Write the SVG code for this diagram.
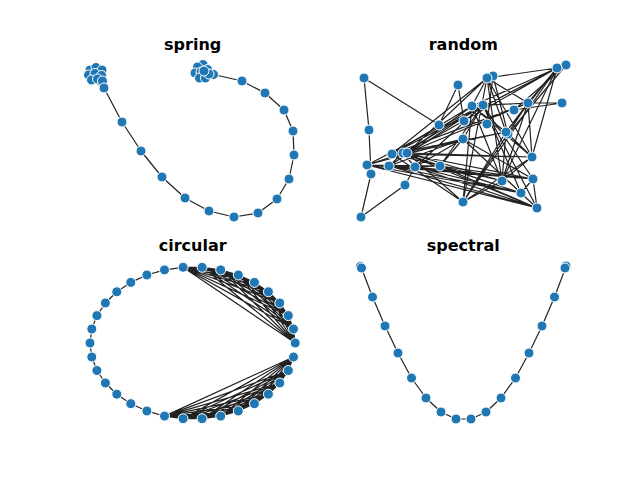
<svg xmlns="http://www.w3.org/2000/svg" width="640" height="480" viewBox="0 0 640 480">
<style>
.t{font-family:"DejaVu Sans","Liberation Sans",sans-serif;font-weight:bold;font-size:16px;fill:#000;text-anchor:middle}
.e{fill:none;stroke:#222;stroke-width:1.2;stroke-linejoin:round;stroke-linecap:round}
.n{fill:#1f77b4;stroke:#fff;stroke-width:1}
</style>
<rect width="640" height="480" fill="#fff"/>
<g id="titles">
<text class="t" x="192.7" y="49.5">spring</text>
<text class="t" x="463.3" y="49.5">random</text>
<text class="t" x="192.7" y="251.2">circular</text>
<text class="t" x="463.3" y="251.2">spectral</text>
</g>
<g id="connectors">
<path id="spring-clique1" class="e" d="M90 70L96 67.5 90 70 102 70 90 70 88.5 75 90 70 95 73.5 90 70 101.5 75.5 90 70 91.5 80 90 70 97.5 79 90 70 102.5 81 90 70 104 88M96 67.5L102 70 96 67.5 88.5 75 96 67.5 95 73.5 96 67.5 101.5 75.5 96 67.5 91.5 80 96 67.5 97.5 79 96 67.5 102.5 81 96 67.5 104 88M102 70L88.5 75 102 70 95 73.5 102 70 101.5 75.5 102 70 91.5 80 102 70 97.5 79 102 70 102.5 81 102 70 104 88M88.5 75L95 73.5 88.5 75 101.5 75.5 88.5 75 91.5 80 88.5 75 97.5 79 88.5 75 102.5 81 88.5 75 104 88M95 73.5L101.5 75.5 95 73.5 91.5 80 95 73.5 97.5 79 95 73.5 102.5 81 95 73.5 104 88M101.5 75.5L91.5 80 101.5 75.5 97.5 79 101.5 75.5 102.5 81 101.5 75.5 104 88M91.5 80L97.5 79 91.5 80 102.5 81 91.5 80 104 88M97.5 79L102.5 81 97.5 79 104 88M102.5 81L104 88"/>
<path id="spring-clique2" class="e" d="M213.5 74.5L203 64.5 213.5 74.5 197.5 67 213.5 74.5 195 73 213.5 74.5 201 72 213.5 74.5 207.5 69.5 213.5 74.5 199.5 78 213.5 74.5 205.5 78 213.5 74.5 209 74 213.5 74.5 204 71M203 64.5L197.5 67 203 64.5 195 73 203 64.5 201 72 203 64.5 207.5 69.5 203 64.5 199.5 78 203 64.5 205.5 78 203 64.5 209 74 203 64.5 204 71M197.5 67L195 73 197.5 67 201 72 197.5 67 207.5 69.5 197.5 67 199.5 78 197.5 67 205.5 78 197.5 67 209 74 197.5 67 204 71M195 73L201 72 195 73 207.5 69.5 195 73 199.5 78 195 73 205.5 78 195 73 209 74 195 73 204 71M201 72L207.5 69.5 201 72 199.5 78 201 72 205.5 78 201 72 209 74 201 72 204 71M207.5 69.5L199.5 78 207.5 69.5 205.5 78 207.5 69.5 209 74 207.5 69.5 204 71M199.5 78L205.5 78 199.5 78 209 74 199.5 78 204 71M205.5 78L209 74 205.5 78 204 71M209 74L204 71"/>
<polyline id="spring-path" class="e" points="104,88 122,122 141,151 162,177 185,198 209,211 234,217 258,213 277,199 289,179 294,155 293,131 284,110 265,93 242,81 213.5,74.5"/>
<path id="random-clique1" class="e" d="M367 165L483 105 367 165 389 166 367 165 403 153 367 165 440 166 367 165 533 179 367 165 537 208 367 165 521 193 367 165 463 139 367 165 415 167M483 105L389 166 483 105 403 153 483 105 440 166 483 105 533 179 483 105 537 208 483 105 521 193 483 105 463 139 483 105 415 167M389 166L403 153 389 166 440 166 389 166 533 179 389 166 537 208 389 166 521 193 389 166 463 139 389 166 415 167M403 153L440 166 403 153 533 179 403 153 537 208 403 153 521 193 403 153 463 139 403 153 415 167M440 166L533 179 440 166 537 208 440 166 521 193 440 166 463 139 440 166 415 167M533 179L537 208 533 179 521 193 533 179 463 139 533 179 415 167M537 208L521 193 537 208 463 139 537 208 415 167M521 193L463 139 521 193 415 167M463 139L415 167"/>
<path id="random-clique2" class="e" d="M528 103L557 68 528 103 487 78 528 103 472 106 528 103 506 132 528 103 407 153 528 103 463 202 528 103 392 154 528 103 532 157 528 103 502 181M557 68L487 78 557 68 472 106 557 68 506 132 557 68 407 153 557 68 463 202 557 68 392 154 557 68 532 157 557 68 502 181M487 78L472 106 487 78 506 132 487 78 407 153 487 78 463 202 487 78 392 154 487 78 532 157 487 78 502 181M472 106L506 132 472 106 407 153 472 106 463 202 472 106 392 154 472 106 532 157 472 106 502 181M506 132L407 153 506 132 463 202 506 132 392 154 506 132 532 157 506 132 502 181M407 153L463 202 407 153 392 154 407 153 532 157 407 153 502 181M463 202L392 154 463 202 532 157 463 202 502 181M392 154L532 157 392 154 502 181M532 157L502 181"/>
<polyline id="random-path" class="e" points="415,167 405,185 361,217 371,174 369,130 364,78 439,125 458,85 464,121 487,124 493,76 508,134 566,65 514,110 562,103 528,103"/>
<path id="circular-clique1" class="e" d="M295.2 343L293.5 329 295.2 343 288.3 315.6 295.2 343 279.8 303 295.2 343 268.4 291.8 295.2 343 254.4 282.4 295.2 343 238.3 275 295.2 343 220.7 269.9 295.2 343 202.1 267.3 295.2 343 183.1 267.3M293.5 329L288.3 315.6 293.5 329 279.8 303 293.5 329 268.4 291.8 293.5 329 254.4 282.4 293.5 329 238.3 275 293.5 329 220.7 269.9 293.5 329 202.1 267.3 293.5 329 183.1 267.3M288.3 315.6L279.8 303 288.3 315.6 268.4 291.8 288.3 315.6 254.4 282.4 288.3 315.6 238.3 275 288.3 315.6 220.7 269.9 288.3 315.6 202.1 267.3 288.3 315.6 183.1 267.3M279.8 303L268.4 291.8 279.8 303 254.4 282.4 279.8 303 238.3 275 279.8 303 220.7 269.9 279.8 303 202.1 267.3 279.8 303 183.1 267.3M268.4 291.8L254.4 282.4 268.4 291.8 238.3 275 268.4 291.8 220.7 269.9 268.4 291.8 202.1 267.3 268.4 291.8 183.1 267.3M254.4 282.4L238.3 275 254.4 282.4 220.7 269.9 254.4 282.4 202.1 267.3 254.4 282.4 183.1 267.3M238.3 275L220.7 269.9 238.3 275 202.1 267.3 238.3 275 183.1 267.3M220.7 269.9L202.1 267.3 220.7 269.9 183.1 267.3M202.1 267.3L183.1 267.3"/>
<path id="circular-clique2" class="e" d="M164.5 416.1L183.1 418.7 164.5 416.1 202.1 418.7 164.5 416.1 220.7 416.1 164.5 416.1 238.3 411 164.5 416.1 254.4 403.7 164.5 416.1 268.4 394.2 164.5 416.1 279.8 383 164.5 416.1 288.3 370.5 164.5 416.1 293.5 357M183.1 418.7L202.1 418.7 183.1 418.7 220.7 416.1 183.1 418.7 238.3 411 183.1 418.7 254.4 403.7 183.1 418.7 268.4 394.2 183.1 418.7 279.8 383 183.1 418.7 288.3 370.5 183.1 418.7 293.5 357M202.1 418.7L220.7 416.1 202.1 418.7 238.3 411 202.1 418.7 254.4 403.7 202.1 418.7 268.4 394.2 202.1 418.7 279.8 383 202.1 418.7 288.3 370.5 202.1 418.7 293.5 357M220.7 416.1L238.3 411 220.7 416.1 254.4 403.7 220.7 416.1 268.4 394.2 220.7 416.1 279.8 383 220.7 416.1 288.3 370.5 220.7 416.1 293.5 357M238.3 411L254.4 403.7 238.3 411 268.4 394.2 238.3 411 279.8 383 238.3 411 288.3 370.5 238.3 411 293.5 357M254.4 403.7L268.4 394.2 254.4 403.7 279.8 383 254.4 403.7 288.3 370.5 254.4 403.7 293.5 357M268.4 394.2L279.8 383 268.4 394.2 288.3 370.5 268.4 394.2 293.5 357M279.8 383L288.3 370.5 279.8 383 293.5 357M288.3 370.5L293.5 357"/>
<polyline id="circular-path" class="e" points="183.1,267.3 164.5,269.9 146.9,275 130.8,282.4 116.8,291.8 105.4,303 96.9,315.6 91.8,329 90,343 91.8,357 96.9,370.5 105.4,383 116.8,394.2 130.8,403.7 146.9,411 164.5,416.1"/>
<polyline id="spectral-path" class="e" points="361.5,268 372.5,297 385,326 398,353 411.5,378 426,398 441,412 456,419 471,419 486,412 501,398 515.5,378 529,353 542,326 554.5,297 565.5,268"/>
</g>
<g id="spring-nodes">
<circle id="s0" class="n" cx="90" cy="70" r="5"/><circle id="s1" class="n" cx="96" cy="67.5" r="5"/><circle id="s2" class="n" cx="102" cy="70" r="5"/><circle id="s3" class="n" cx="88.5" cy="75" r="5"/><circle id="s4" class="n" cx="95" cy="73.5" r="5"/><circle id="s5" class="n" cx="101.5" cy="75.5" r="5"/><circle id="s6" class="n" cx="91.5" cy="80" r="5"/><circle id="s7" class="n" cx="97.5" cy="79" r="5"/><circle id="s8" class="n" cx="102.5" cy="81" r="5"/><circle id="s9" class="n" cx="104" cy="88" r="5"/>
<circle id="s10" class="n" cx="122" cy="122" r="5"/><circle id="s11" class="n" cx="141" cy="151" r="5"/><circle id="s12" class="n" cx="162" cy="177" r="5"/><circle id="s13" class="n" cx="185" cy="198" r="5"/><circle id="s14" class="n" cx="209" cy="211" r="5"/><circle id="s15" class="n" cx="234" cy="217" r="5"/><circle id="s16" class="n" cx="258" cy="213" r="5"/><circle id="s17" class="n" cx="277" cy="199" r="5"/><circle id="s18" class="n" cx="289" cy="179" r="5"/><circle id="s19" class="n" cx="294" cy="155" r="5"/><circle id="s20" class="n" cx="293" cy="131" r="5"/><circle id="s21" class="n" cx="284" cy="110" r="5"/><circle id="s22" class="n" cx="265" cy="93" r="5"/><circle id="s23" class="n" cx="242" cy="81" r="5"/>
<circle id="s24" class="n" cx="213.5" cy="74.5" r="5"/><circle id="s25" class="n" cx="203" cy="64.5" r="5"/><circle id="s26" class="n" cx="197.5" cy="67" r="5"/><circle id="s27" class="n" cx="195" cy="73" r="5"/><circle id="s28" class="n" cx="201" cy="72" r="5"/><circle id="s29" class="n" cx="207.5" cy="69.5" r="5"/><circle id="s30" class="n" cx="199.5" cy="78" r="5"/><circle id="s31" class="n" cx="205.5" cy="78" r="5"/><circle id="s32" class="n" cx="209" cy="74" r="5"/><circle id="s33" class="n" cx="204" cy="71" r="5"/>
</g>
<g id="random-nodes">
<circle id="r0" class="n" cx="367" cy="165" r="5"/><circle id="r1" class="n" cx="483" cy="105" r="5"/><circle id="r2" class="n" cx="389" cy="166" r="5"/><circle id="r3" class="n" cx="403" cy="153" r="5"/><circle id="r4" class="n" cx="440" cy="166" r="5"/><circle id="r5" class="n" cx="533" cy="179" r="5"/><circle id="r6" class="n" cx="537" cy="208" r="5"/><circle id="r7" class="n" cx="521" cy="193" r="5"/><circle id="r8" class="n" cx="463" cy="139" r="5"/><circle id="r9" class="n" cx="415" cy="167" r="5"/>
<circle id="r10" class="n" cx="405" cy="185" r="5"/><circle id="r11" class="n" cx="361" cy="217" r="5"/><circle id="r12" class="n" cx="371" cy="174" r="5"/><circle id="r13" class="n" cx="369" cy="130" r="5"/><circle id="r14" class="n" cx="364" cy="78" r="5"/><circle id="r15" class="n" cx="439" cy="125" r="5"/><circle id="r16" class="n" cx="458" cy="85" r="5"/><circle id="r17" class="n" cx="464" cy="121" r="5"/><circle id="r18" class="n" cx="487" cy="124" r="5"/><circle id="r19" class="n" cx="493" cy="76" r="5"/><circle id="r20" class="n" cx="508" cy="134" r="5"/><circle id="r21" class="n" cx="566" cy="65" r="5"/><circle id="r22" class="n" cx="514" cy="110" r="5"/><circle id="r23" class="n" cx="562" cy="103" r="5"/>
<circle id="r24" class="n" cx="528" cy="103" r="5"/><circle id="r25" class="n" cx="557" cy="68" r="5"/><circle id="r26" class="n" cx="487" cy="78" r="5"/><circle id="r27" class="n" cx="472" cy="106" r="5"/><circle id="r28" class="n" cx="506" cy="132" r="5"/><circle id="r29" class="n" cx="407" cy="153" r="5"/><circle id="r30" class="n" cx="463" cy="202" r="5"/><circle id="r31" class="n" cx="392" cy="154" r="5"/><circle id="r32" class="n" cx="532" cy="157" r="5"/><circle id="r33" class="n" cx="502" cy="181" r="5"/>
</g>
<g id="circular-nodes">
<circle id="c0" class="n" cx="295.2" cy="343" r="5"/><circle id="c1" class="n" cx="293.5" cy="329" r="5"/><circle id="c2" class="n" cx="288.3" cy="315.6" r="5"/><circle id="c3" class="n" cx="279.8" cy="303" r="5"/><circle id="c4" class="n" cx="268.4" cy="291.8" r="5"/><circle id="c5" class="n" cx="254.4" cy="282.4" r="5"/><circle id="c6" class="n" cx="238.3" cy="275" r="5"/><circle id="c7" class="n" cx="220.7" cy="269.9" r="5"/><circle id="c8" class="n" cx="202.1" cy="267.3" r="5"/><circle id="c9" class="n" cx="183.1" cy="267.3" r="5"/>
<circle id="c10" class="n" cx="164.5" cy="269.9" r="5"/><circle id="c11" class="n" cx="146.9" cy="275" r="5"/><circle id="c12" class="n" cx="130.8" cy="282.4" r="5"/><circle id="c13" class="n" cx="116.8" cy="291.8" r="5"/><circle id="c14" class="n" cx="105.4" cy="303" r="5"/><circle id="c15" class="n" cx="96.9" cy="315.6" r="5"/><circle id="c16" class="n" cx="91.8" cy="329" r="5"/><circle id="c17" class="n" cx="90" cy="343" r="5"/><circle id="c18" class="n" cx="91.8" cy="357" r="5"/><circle id="c19" class="n" cx="96.9" cy="370.5" r="5"/><circle id="c20" class="n" cx="105.4" cy="383" r="5"/><circle id="c21" class="n" cx="116.8" cy="394.2" r="5"/><circle id="c22" class="n" cx="130.8" cy="403.7" r="5"/><circle id="c23" class="n" cx="146.9" cy="411" r="5"/>
<circle id="c24" class="n" cx="164.5" cy="416.1" r="5"/><circle id="c25" class="n" cx="183.1" cy="418.7" r="5"/><circle id="c26" class="n" cx="202.1" cy="418.7" r="5"/><circle id="c27" class="n" cx="220.7" cy="416.1" r="5"/><circle id="c28" class="n" cx="238.3" cy="411" r="5"/><circle id="c29" class="n" cx="254.4" cy="403.7" r="5"/><circle id="c30" class="n" cx="268.4" cy="394.2" r="5"/><circle id="c31" class="n" cx="279.8" cy="383" r="5"/><circle id="c32" class="n" cx="288.3" cy="370.5" r="5"/><circle id="c33" class="n" cx="293.5" cy="357" r="5"/>
</g>
<g id="spectral-nodes">
<circle id="p0" class="n" cx="360.5" cy="266.5" r="5"/><circle id="p1" class="n" cx="360.5" cy="266.5" r="5"/><circle id="p2" class="n" cx="360.5" cy="266.5" r="5"/><circle id="p3" class="n" cx="360.5" cy="266.5" r="5"/><circle id="p4" class="n" cx="360.5" cy="266.5" r="5"/><circle id="p5" class="n" cx="360.5" cy="266.5" r="5"/><circle id="p6" class="n" cx="360.5" cy="266.5" r="5"/><circle id="p7" class="n" cx="360.5" cy="266.5" r="5"/><circle id="p8" class="n" cx="360.5" cy="266.5" r="5"/><circle id="p9" class="n" cx="361.5" cy="268" r="5"/>
<circle id="p10" class="n" cx="372.5" cy="297" r="5"/><circle id="p11" class="n" cx="385" cy="326" r="5"/><circle id="p12" class="n" cx="398" cy="353" r="5"/><circle id="p13" class="n" cx="411.5" cy="378" r="5"/><circle id="p14" class="n" cx="426" cy="398" r="5"/><circle id="p15" class="n" cx="441" cy="412" r="5"/><circle id="p16" class="n" cx="456" cy="419" r="5"/><circle id="p17" class="n" cx="471" cy="419" r="5"/><circle id="p18" class="n" cx="486" cy="412" r="5"/><circle id="p19" class="n" cx="501" cy="398" r="5"/><circle id="p20" class="n" cx="515.5" cy="378" r="5"/><circle id="p21" class="n" cx="529" cy="353" r="5"/><circle id="p22" class="n" cx="542" cy="326" r="5"/><circle id="p23" class="n" cx="554.5" cy="297" r="5"/>
<circle id="p24" class="n" cx="565" cy="268" r="5"/><circle id="p25" class="n" cx="566" cy="266" r="5"/><circle id="p26" class="n" cx="566" cy="266" r="5"/><circle id="p27" class="n" cx="566" cy="266" r="5"/><circle id="p28" class="n" cx="566" cy="266" r="5"/><circle id="p29" class="n" cx="566" cy="266" r="5"/><circle id="p30" class="n" cx="566" cy="266" r="5"/><circle id="p31" class="n" cx="566" cy="266" r="5"/><circle id="p32" class="n" cx="566" cy="266" r="5"/><circle id="p33" class="n" cx="565" cy="268" r="5"/>
</g>
</svg>
